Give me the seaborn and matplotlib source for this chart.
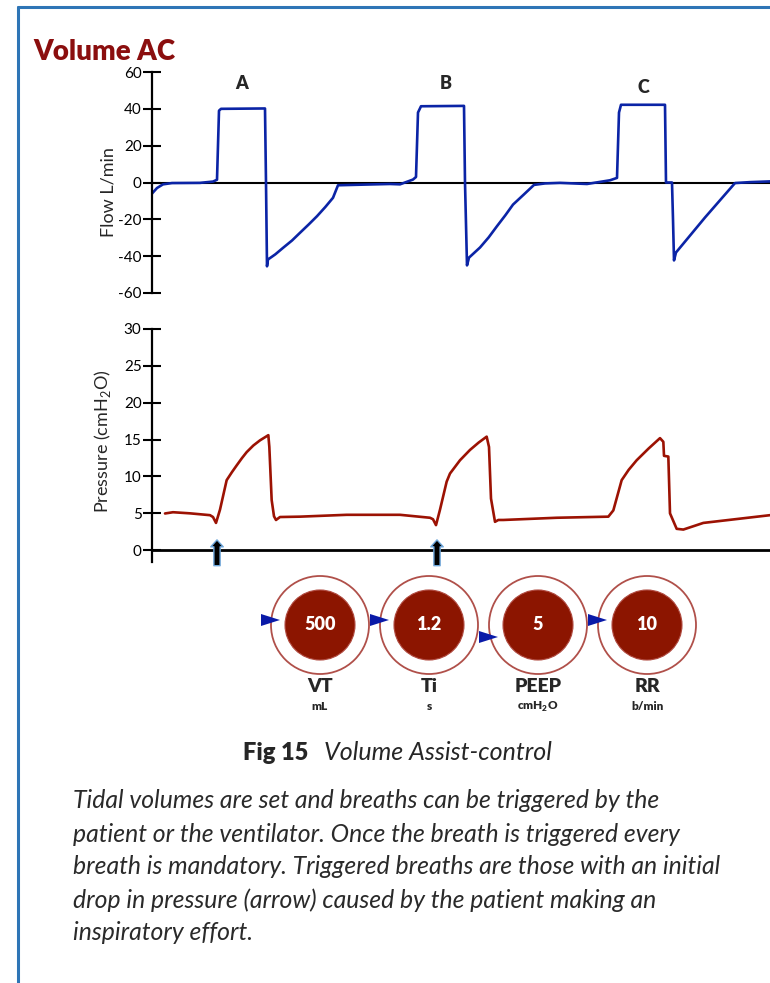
"""
Volume AC: flow and pressure waveforms with the ventilator settings dials.
"""

import matplotlib.pyplot as plt
import seaborn as sns
import pandas as pd
from matplotlib.patches import Circle, Polygon
from matplotlib.lines import Line2D

# =========================
# Data (time in s)
# =========================

flow_t = [0.00, 0.15, 0.33, 0.60, 1.44, 1.83, 1.95, 2.01, 2.07, 3.39, 3.42, 3.45,
          3.48, 3.70, 3.93, 4.20, 4.44, 4.70, 4.95, 5.20, 5.43, 5.58, 6.24, 7.14,
          7.44, 7.83, 7.92, 7.98, 8.07, 9.36, 9.39, 9.45, 9.51, 9.84, 10.10, 10.35,
          10.60, 10.83, 11.15, 11.46, 11.79, 12.24, 13.05, 13.74, 13.95, 14.01,
          14.07, 15.39, 15.42, 15.60, 15.63, 15.66, 15.72, 16.59, 17.49, 17.94, 18.54]
flow_v = [-6.0, -3.0, -1.0, -0.3, -0.2, 0.5, 1.5, 39.0, 40.0, 40.2, 0.0, -45.5,
          -41.8, -39.0, -35.5, -31.5, -27.3, -22.8, -18.3, -13.3, -8.3, -1.5, -1.2, -0.8,
          -1.0, 1.6, 3.0, 38.0, 41.4, 41.6, 0.0, -45.0, -40.8, -35.3, -29.8, -23.7,
          -17.8, -12.0, -6.6, -1.3, -0.5, -0.2, -0.8, 1.2, 2.5, 38.0,
          42.2, 42.2, 0.0, 0.0, -20.0, -42.3, -38.0, -19.0, -0.3, 0.2, 0.6]

pres_t = [0.39, 0.63, 1.14, 1.74, 1.83, 1.92, 2.04, 2.24, 2.40, 2.54, 2.70, 2.84,
          3.04, 3.24, 3.49, 3.52, 3.59, 3.66, 3.72, 3.84, 4.44, 5.84, 7.44, 8.34,
          8.43, 8.52, 8.64, 8.84, 8.94, 9.24, 9.54, 9.80, 10.04, 10.11, 10.17,
          10.29, 10.39, 10.54, 12.14, 13.69, 13.84, 14.09, 14.30, 14.54, 14.90,
          15.24, 15.34, 15.36, 15.49, 15.54, 15.74, 15.94, 16.54, 18.54]
pres_v = [4.98, 5.15, 5.0, 4.75, 4.5, 3.7, 5.5, 9.5, 10.6, 11.5, 12.5, 13.3,
          14.2, 14.9, 15.6, 14.0, 6.8, 4.6, 4.1, 4.5, 4.55, 4.8, 4.8, 4.4,
          4.2, 3.4, 5.5, 9.3, 10.4, 12.2, 13.6, 14.6, 15.4, 14.0, 7.0,
          3.85, 4.1, 4.1, 4.4, 4.55, 5.4, 9.5, 10.9, 12.2, 13.8,
          15.2, 14.7, 12.8, 12.7, 5.0, 2.9, 2.8, 3.7, 4.75]

breath_labels = ["A", "B", "C"]
breath_label_t = [2.70, 8.82, 14.73]
breath_label_v = [53.7, 53.7, 51.6]

trigger_t = [1.95, 8.55]

flow_ticks = [-60, -40, -20, 0, 20, 40, 60]
pres_ticks = [0, 5, 10, 15, 20, 25, 30]

dial_names = ["VT", "Ti", "PEEP", "RR"]
dial_units = ["mL", "s", "cmH$_\\mathbf{2}$O", "b/min"]
dial_values = ["500", "1.2", "5", "10"]
dial_pointer = [-5, -5, 12, -5]   # knob pointer offset (px) of each dial

caption_lines = [
    "Tidal volumes are set and breaths can be triggered by the",
    "patient or the ventilator. Once the breath is triggered every",
    "breath is mandatory. Triggered breaths are those with an initial",
    "drop in pressure (arrow) caused by the patient making an",
    "inspiratory effort.",
]

# =========================
# Style
# =========================

sns.set_style("ticks")
plt.rcParams["font.family"] = ["Lato", "DejaVu Sans"]
plt.rcParams["axes.unicode_minus"] = False
plt.rcParams["mathtext.fontset"] = "custom"
plt.rcParams["mathtext.rm"] = "Lato"
plt.rcParams["mathtext.bf"] = "Lato:heavy"

FLOW_C = "#0b24a6"
PRES_C = "#9c1203"
DARK_RED = "#8c1500"
W, H = 770, 983

fig = plt.figure(figsize=(W / 100, H / 100), dpi=100)


def px_axes(x0, y0, x1, y1):
    """Axes given by pixel box (top-left origin)."""
    return fig.add_axes([x0 / W, 1 - y1 / H, (x1 - x0) / W, (y1 - y0) / H])


def style_axis(ax, ticks):
    for s in ["top", "right", "bottom"]:
        ax.spines[s].set_visible(False)
    ax.spines["left"].set_linewidth(1.6)
    ax.spines["left"].set_color("black")
    ax.set_xticks([])
    ax.set_yticks(ticks)
    ax.tick_params(axis="y", direction="inout", length=13, width=1.5,
                   pad=1, labelsize=11, colors="black")
    ax.set_facecolor("none")
    ax.set_xlabel("")


# --- Flow ---
ax1 = px_axes(152, 72, 770, 293)
df_flow = pd.DataFrame({"t": flow_t, "flow": flow_v})
sns.lineplot(data=df_flow, x="t", y="flow", sort=False, estimator=None,
             color=FLOW_C, lw=1.9, ax=ax1)
ax1.axhline(0, color="black", lw=1.5, zorder=1)
ax1.set_xlim(0, 18.54)
ax1.set_ylim(-60, 60)
style_axis(ax1, flow_ticks)
ax1.set_ylabel("Flow L/min", fontsize=13)
ax1.yaxis.set_label_coords(-0.058, 0.457)
for lab, t, v in zip(breath_labels, breath_label_t, breath_label_v):
    ax1.text(t, v, lab, fontsize=13, fontweight="heavy", ha="center", va="center")

# --- Pressure ---
ax2 = px_axes(152, 329, 770, 562)
df_pres = pd.DataFrame({"t": pres_t, "pressure": pres_v})
sns.lineplot(data=df_pres, x="t", y="pressure", sort=False, estimator=None,
             color=PRES_C, lw=1.9, ax=ax2)
ax2.axhline(0, color="black", lw=2, zorder=1)
ax2.set_xlim(0, 18.54)
ax2.set_ylim(-1.6, 30)
style_axis(ax2, pres_ticks)
ax2.set_ylabel("Pressure (cmH$_2$O)", fontsize=13)
ax2.yaxis.set_label_coords(-0.063, 0.519)
for t in trigger_t:
    ax2.annotate("", xy=(t, 1.4), xytext=(t, -2.1), annotation_clip=False,
                 arrowprops=dict(arrowstyle="simple,head_width=0.9,head_length=0.5,tail_width=0.45",
                                 fc="black", ec="#6fa8dc", lw=1,
                                 shrinkA=0, shrinkB=0, mutation_scale=10))

# --- Dials ---
ax3 = px_axes(250, 570, 720, 720)
ax3.set_xlim(250, 720)
ax3.set_ylim(720, 570)
ax3.set_axis_off()
for i, (name, unit, val, dy) in enumerate(zip(dial_names, dial_units, dial_values, dial_pointer)):
    cx, cy = 320 + 109 * i, 625
    ax3.add_patch(Circle((cx, cy), 49, fc="white", ec="#b0504a", lw=1.3))
    ax3.add_patch(Circle((cx, cy), 35, fc=DARK_RED, ec="#b04a40", lw=0.8))
    ax3.add_patch(Polygon([(cx - 59, cy + dy - 6), (cx - 59, cy + dy + 6), (cx - 40, cy + dy)],
                          closed=True, fc="#0a1aa8", ec="none", zorder=5))
    ax3.text(cx, cy, val, color="white", fontsize=13, fontweight="heavy",
             ha="center", va="center")
    ax3.text(cx, 687, name, fontsize=14, fontweight="heavy", ha="center", va="center")
    ax3.text(cx, 707, unit, fontsize=8.5, fontweight="heavy", ha="center", va="center")

# --- Title, caption and frame ---
fig.text(33 / W, 1 - 52 / H, "Volume AC", color="#8b0e0e", fontsize=20,
         fontweight="heavy", ha="left", va="center")
fig.text(308 / W, 1 - 753 / H, "Fig 15", fontsize=17, fontweight="heavy",
         ha="right", va="center")
fig.text(324 / W, 1 - 753 / H, "Volume Assist-control", fontsize=18,
         style="italic", ha="left", va="center")
for k, line in enumerate(caption_lines):
    fig.text(73 / W, 1 - (801 + 33 * k) / H, line, fontsize=17.8, style="italic",
             color="#2a2a2a", ha="left", va="center")

frame_c = "#2e75b6"
fig.add_artist(Line2D([18 / W, 18 / W], [0, 1 - 7 / H], color=frame_c, lw=2.2))
fig.add_artist(Line2D([18 / W, 1], [1 - 7 / H, 1 - 7 / H], color=frame_c, lw=2.2))

fig.savefig("out.png", dpi=100)
